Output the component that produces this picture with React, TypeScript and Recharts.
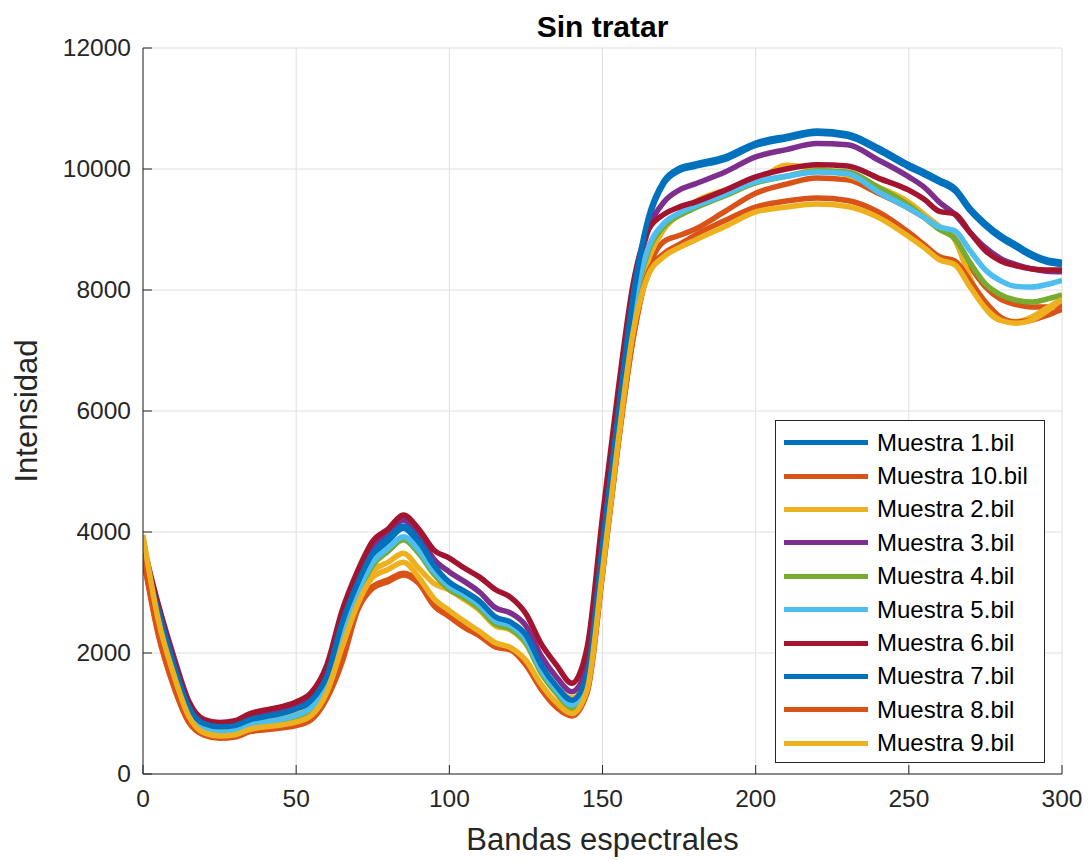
import { CartesianGrid, Line, LineChart, XAxis, YAxis } from 'recharts'

// bandas espectrales muestreadas
const bandas = [
  0, 5, 10, 15, 20, 25, 30, 35, 40, 45,
  50, 55, 60, 65, 70, 75, 80, 85, 90, 95,
  100, 105, 110, 115, 120, 125, 130, 135, 140, 145,
  150, 155, 160, 165, 170, 175, 180,
  190, 200, 210, 220, 230, 240, 250,
  255, 260, 265, 270, 275, 280, 285, 290, 295, 300,
]

const muestra1 = [
  3560, 2680, 1800, 1080, 800, 750, 770, 870, 920, 970,
  1050, 1190, 1580, 2450, 3100, 3600, 3850, 4060, 3810, 3410,
  3130, 2980, 2810, 2560, 2470, 2260, 1760, 1410, 1190, 1600,
  3750, 5850, 7850, 9150, 9760, 9970, 10040,
  10160, 10390, 10500, 10590, 10540, 10310, 10030,
  9910, 9780, 9640, 9310, 9060, 8860, 8710, 8560, 8460, 8420,
]
const muestra10 = [
  3620, 2330, 1480, 880, 660, 610, 630, 720, 750, 780,
  830, 930, 1280, 1900, 2750, 3100, 3210, 3320, 3180, 2810,
  2630, 2450, 2310, 2130, 2080, 1830, 1430, 1130, 990, 1380,
  3320, 5420, 7200, 8350, 8800, 8900, 9000,
  9300, 9600, 9750, 9850, 9820, 9600, 9350,
  9200, 9030, 8850, 8400, 8050, 7850, 7760, 7720, 7720, 7750,
]
const muestra2 = [
  3900, 2650, 1750, 1050, 760, 720, 740, 840, 880, 920,
  990, 1090, 1450, 2250, 2900, 3350, 3500, 3650, 3400, 3150,
  3040, 2880, 2700, 2450, 2380, 2150, 1680, 1420, 1255, 1600,
  3500, 5600, 7400, 8500, 9000, 9250, 9450,
  9650, 9790, 10060, 10000, 9900, 9700, 9450,
  9250, 9050, 8830, 8200, 7700, 7500, 7480, 7550, 7700, 7850,
]
const muestra3 = [
  3800, 2800, 1950, 1200, 880, 840, 860, 950, 1000, 1050,
  1130, 1270, 1700, 2600, 3250, 3750, 3980, 4200, 3950, 3550,
  3340, 3180, 3000, 2750, 2660, 2450, 1950, 1600, 1360, 1800,
  4000, 6100, 7900, 9000, 9450, 9650, 9750,
  9950, 10200, 10320, 10420, 10400, 10150, 9870,
  9700, 9450, 9250, 8950, 8700, 8520, 8420, 8350, 8310, 8300,
]
const muestra4 = [
  3500, 2580, 1720, 1000, 720, 660, 690, 790, 830, 870,
  930, 1060, 1450, 2300, 2950, 3450, 3680, 3870, 3650, 3300,
  3050, 2910, 2730, 2480, 2400, 2170, 1670, 1330, 1080, 1500,
  3650, 5750, 7650, 8650, 9050, 9230, 9350,
  9560, 9770, 9880, 9970, 9950, 9700, 9400,
  9200, 9000, 8850, 8450, 8100, 7920, 7830, 7800, 7850, 7920,
]
const muestra5 = [
  3500, 2600, 1750, 1030, 750, 690, 720, 820, 860, 900,
  970, 1100, 1500, 2350, 3000, 3500, 3730, 3920, 3700, 3350,
  3100, 2960, 2780, 2530, 2450, 2220, 1720, 1380, 1140, 1550,
  3700, 5800, 7700, 8700, 9100, 9270, 9380,
  9580, 9790, 9880, 9950, 9920, 9620, 9350,
  9200, 9040, 8980, 8650, 8330, 8150, 8060, 8050, 8090, 8160,
]
const muestra6 = [
  3750, 2780, 1900, 1180, 900, 850, 880, 1000, 1060, 1110,
  1190, 1350, 1800, 2700, 3350, 3850, 4050, 4280, 4050, 3700,
  3570, 3400, 3250, 3050, 2920, 2650, 2150, 1800, 1500, 2100,
  4250, 6300, 8100, 9000, 9250, 9370, 9450,
  9650, 9870, 10000, 10070, 10050, 9850, 9650,
  9500, 9300, 9260, 8950, 8650, 8480, 8400, 8350, 8330, 8330,
]
const muestra7 = [
  3600, 2700, 1820, 1100, 830, 780, 800, 900, 950, 1000,
  1080, 1220, 1620, 2500, 3150, 3650, 3900, 4100, 3850, 3450,
  3170, 3020, 2850, 2600, 2510, 2300, 1800, 1450, 1220, 1650,
  3800, 5900, 7900, 9200, 9800, 10010, 10080,
  10200, 10430, 10540, 10630, 10580, 10350, 10070,
  9950, 9820, 9680, 9350, 9100, 8900, 8750, 8600, 8500, 8460,
]
const muestra8 = [
  3600, 2300, 1450, 850, 640, 590, 610, 700, 730, 760,
  800, 900, 1250, 1850, 2700, 3070, 3180, 3290, 3150, 2780,
  2600, 2420, 2280, 2100, 2050, 1800, 1400, 1100, 960, 1350,
  3300, 5400, 7200, 8300, 8600, 8750, 8900,
  9150, 9370, 9470, 9520, 9480, 9290, 8950,
  8750, 8550, 8480, 8150, 7800, 7550, 7470, 7500, 7580, 7680,
]
const muestra9 = [
  3950, 2550, 1650, 950, 680, 630, 650, 740, 780, 810,
  860, 970, 1350, 2100, 2800, 3250, 3380, 3500, 3250, 2900,
  2700, 2520, 2350, 2170, 2090, 1880, 1480, 1180, 1000, 1400,
  3350, 5450, 7300, 8250, 8550, 8700, 8820,
  9050, 9290, 9370, 9420, 9380, 9200, 8880,
  8700, 8500, 8420, 8050, 7700, 7500, 7450, 7500, 7650, 7850,
]

const xTicks = [0, 50, 100, 150, 200, 250, 300]
const yTicks = [0, 2000, 4000, 6000, 8000, 10000, 12000]

// orden de trazado = orden de la leyenda (MATLAB)
const SERIES = [
  { key: 'm1', nombre: 'Muestra 1.bil', valores: muestra1, color: '#0072BD' },
  { key: 'm10', nombre: 'Muestra 10.bil', valores: muestra10, color: '#D95319' },
  { key: 'm2', nombre: 'Muestra 2.bil', valores: muestra2, color: '#EDB120' },
  { key: 'm3', nombre: 'Muestra 3.bil', valores: muestra3, color: '#7E2F8E' },
  { key: 'm4', nombre: 'Muestra 4.bil', valores: muestra4, color: '#77AC30' },
  { key: 'm5', nombre: 'Muestra 5.bil', valores: muestra5, color: '#4DBEEE' },
  { key: 'm6', nombre: 'Muestra 6.bil', valores: muestra6, color: '#A2142F' },
  { key: 'm7', nombre: 'Muestra 7.bil', valores: muestra7, color: '#0072BD' },
  { key: 'm8', nombre: 'Muestra 8.bil', valores: muestra8, color: '#D95319' },
  { key: 'm9', nombre: 'Muestra 9.bil', valores: muestra9, color: '#EDB120' },
]

const datos = bandas.map((b, i) => {
  const fila: Record<string, number> = { banda: b }
  SERIES.forEach(s => { fila[s.key] = s.valores[i] })
  return fila
})

const FUENTE = '"Liberation Sans", Arial, Helvetica, sans-serif'
const TINTA = '#262626'

function TickY({ x, y, payload }: any) {
  return (
    <g>
      <line x1={x + 12} x2={x + 21} y1={y} y2={y} stroke={TINTA} />
      <text x={x} y={y} dy={8} textAnchor="end" fontSize={24.5} fontFamily={FUENTE} fill={TINTA}>
        {payload.value}
      </text>
    </g>
  )
}

function TickX({ x, y, payload }: any) {
  return (
    <g>
      <line x1={x} x2={x} y1={y - 10} y2={y - 19} stroke={TINTA} />
      <text x={x} y={y + 23} textAnchor="middle" fontSize={24.5} fontFamily={FUENTE} fill={TINTA}>
        {payload.value}
      </text>
    </g>
  )
}

function Leyenda() {
  return (
    <div
      style={{
        position: 'absolute', left: 775, top: 420,
        border: `1px solid ${TINTA}`,
        background: '#fff',
        width: 270,
        height: 343,
        paddingTop: 5,
        boxSizing: 'border-box',
        fontFamily: FUENTE,
        fontSize: 24,
        color: '#000',
      }}
    >
      {SERIES.map(s => (
        <div key={s.key} style={{ display: 'flex', alignItems: 'center', height: 33.4 }}>
          <div style={{ marginLeft: 8, width: 84, height: 5, background: s.color }} />
          <span style={{ marginLeft: 9, whiteSpace: 'nowrap' }}>{s.nombre}</span>
        </div>
      ))}
    </div>
  )
}

export default function App() {
  return (
    <div style={{ position: 'absolute', left: 0, top: 0, width: 1089, height: 861, background: '#fff' }}>
      <div
        style={{
          position: 'absolute', left: 0, width: 1205, top: 10, textAlign: 'center',
          fontFamily: FUENTE, fontWeight: 'bold', fontSize: 30, color: '#000',
        }}
      >
        Sin tratar
      </div>
      <LineChart width={1089} height={861} data={datos} margin={{ top: 48, right: 27, bottom: 0, left: 0 }}>
        <CartesianGrid stroke="#dfdfdf" strokeWidth={1} />
        <XAxis
          dataKey="banda"
          type="number"
          domain={[0, 300]}
          ticks={xTicks}
          height={87}
          tickSize={0}
          tickMargin={10}
          tick={<TickX />}
          tickLine={false}
          stroke={TINTA}
          allowDataOverflow
        />
        <YAxis
          type="number"
          domain={[0, 12000]}
          ticks={yTicks}
          width={143}
          tickSize={0}
          tickMargin={12}
          tick={<TickY />}
          tickLine={false}
          stroke={TINTA}
          allowDataOverflow
        />
        {SERIES.map(s => (
          <Line
            key={s.key}
            dataKey={s.key}
            name={s.nombre}
            type="monotone"
            stroke={s.color}
            strokeWidth={5.5}
            dot={false}
            activeDot={false}
            isAnimationActive={false}
          />
        ))}
      </LineChart>
      <Leyenda />
      <div
        style={{
          position: 'absolute', left: 143, width: 919, top: 822, textAlign: 'center',
          fontFamily: FUENTE, fontSize: 31, color: TINTA,
        }}
      >
        Bandas espectrales
      </div>
      <div
        style={{
          position: 'absolute', left: 27, top: 411, width: 0, height: 0,
        }}
      >
        <div
          style={{
            position: 'absolute', transform: 'translate(-50%, -50%) rotate(-90deg)',
            whiteSpace: 'nowrap', fontFamily: FUENTE, fontSize: 31, color: TINTA,
          }}
        >
          Intensidad
        </div>
      </div>
    </div>
  )
}
